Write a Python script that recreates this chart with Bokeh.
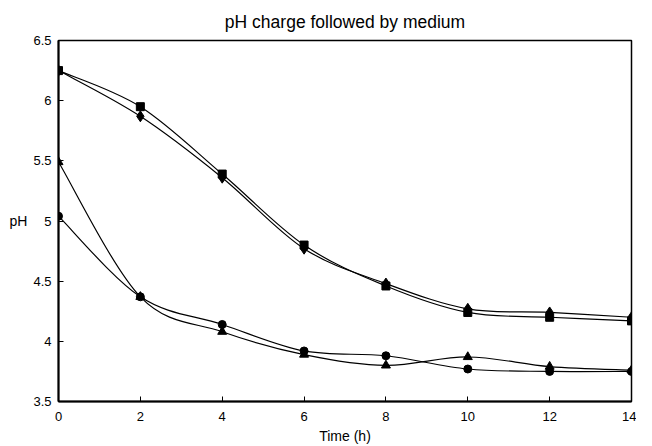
from bokeh.plotting import figure
from bokeh.models import FixedTicker, ColumnDataSource, Title
from bokeh.embed import file_html
from bokeh.resources import INLINE

time_h = [0, 2, 4, 6, 8, 10, 12, 14]
ph_square = [6.25, 5.95, 5.39, 4.80, 4.46, 4.24, 4.20, 4.17]
ph_diamond = [6.25, 5.87, 5.36, 4.77, 4.48, 4.27, 4.24, 4.20]
ph_triangle = [5.49, 4.37, 4.08, 3.89, 3.80, 3.87, 3.79, 3.76]
ph_circle = [5.04, 4.37, 4.14, 3.92, 3.88, 3.77, 3.75, 3.75]
x_ticks = [0, 2, 4, 6, 8, 10, 12, 14]
y_ticks = [3.5, 4, 4.5, 5, 5.5, 6, 6.5]
y_tick_labels = ["3.5", "4", "4.5", "5", "5.5", "6", "6.5"]

FONT = "Liberation Sans"

p = figure(width=636, height=445, x_range=(0, 14), y_range=(3.5, 6.5),
           output_backend="svg", toolbar_location=None,
           min_border_left=58, min_border_right=5, min_border_bottom=36, min_border_top=40)
p.title.text = "pH charge followed by medium"
p.title.align = "center"
p.title.text_font = FONT
p.title.text_font_size = "17.5px"
p.title.text_font_style = "normal"
p.title.text_color = "black"
p.title.standoff = 18

p.grid.visible = False
p.outline_line_color = "black"
p.outline_line_width = 1.5
p.outline_line_alpha = 1

for ax in (p.xaxis[0], p.yaxis[0]):
    ax.axis_line_color = "black"
    ax.axis_line_width = 2
    ax.major_tick_in = 5
    ax.major_tick_out = 0
    ax.minor_tick_in = 0
    ax.minor_tick_out = 0
    ax.major_tick_line_color = "black"
    ax.major_label_text_font = FONT
    ax.major_label_text_font_size = "13px"
    ax.major_label_text_color = "black"
    ax.axis_label_text_font = FONT
    ax.axis_label_text_font_size = "14px"
    ax.axis_label_text_font_style = "normal"
    ax.axis_label_text_color = "black"

p.xaxis.ticker = FixedTicker(ticks=x_ticks)
p.yaxis.ticker = FixedTicker(ticks=y_ticks)
p.yaxis.major_label_overrides = {t: s for t, s in zip(y_ticks, y_tick_labels)}
p.xaxis.major_label_standoff = 10
p.yaxis.major_label_standoff = 7
p.yaxis.axis_label = "pH"
p.yaxis.axis_label_orientation = "horizontal"
p.yaxis.axis_label_standoff = 3

p.add_layout(Title(text="Time (h)", align="center", text_font=FONT,
                   text_font_size="14px", text_font_style="normal",
                   text_color="black", standoff=4), "below")


def smooth(xs, ys):
    n = len(xs)
    d = dict(x0=[], y0=[], x1=[], y1=[], cx0=[], cy0=[], cx1=[], cy1=[])
    for i in range(n - 1):
        a = max(i - 1, 0)
        b = min(i + 2, n - 1)
        d["x0"].append(xs[i]); d["y0"].append(ys[i])
        d["x1"].append(xs[i + 1]); d["y1"].append(ys[i + 1])
        d["cx0"].append(xs[i] + (xs[i + 1] - xs[a]) / 6)
        d["cy0"].append(ys[i] + (ys[i + 1] - ys[a]) / 6)
        d["cx1"].append(xs[i + 1] - (xs[b] - xs[i]) / 6)
        d["cy1"].append(ys[i + 1] - (ys[b] - ys[i]) / 6)
    return ColumnDataSource(d)


series = [(ph_square, "square", 8), (ph_diamond, "diamond", 11),
          (ph_triangle, "triangle", 9), (ph_circle, "circle", 8)]
for ys, marker, size in series:
    p.bezier(x0="x0", y0="y0", x1="x1", y1="y1", cx0="cx0", cy0="cy0",
             cx1="cx1", cy1="cy1", source=smooth(time_h, ys),
             line_color="black", line_width=1.2)
    p.scatter(time_h, ys, marker=marker, size=size, fill_color="black",
              line_color="black")

open("out.html", "w").write(file_html(p, INLINE))
